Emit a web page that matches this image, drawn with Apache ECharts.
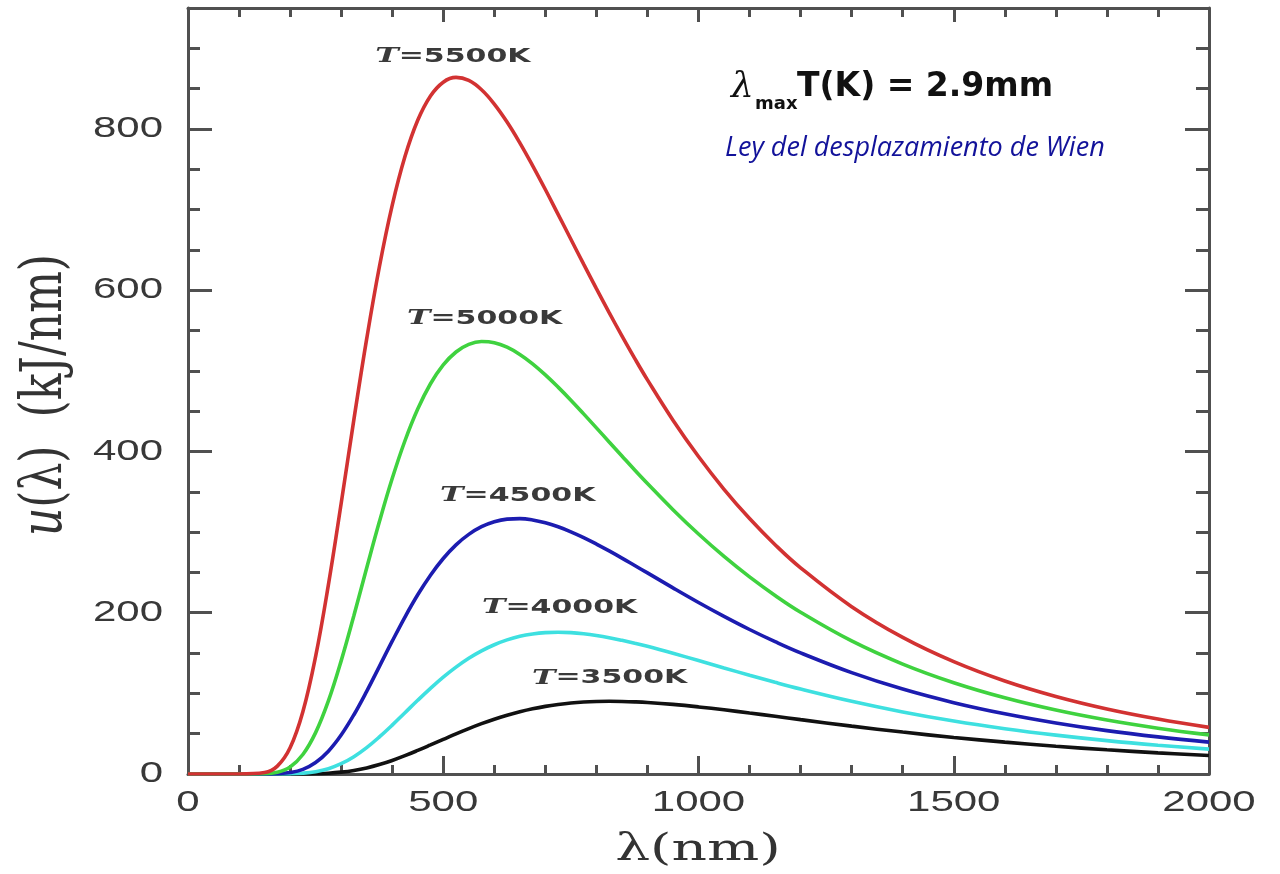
<!DOCTYPE html>
<html><head><meta charset="utf-8">
<script src="https://cdn.jsdelivr.net/npm/echarts@6/dist/echarts.min.js"></script>
<style>html,body{margin:0;padding:0;background:#fff}#c{width:1280px;height:874px}</style>
</head><body><div id="c"></div>
<script>
// Wavelength samples (nm)
const wavelengths = [0,100,150,175,200,225,250,275,300,325,350,375,400,425,450,475,500,525,550,575,600,625,650,675,700,725,750,775,800,825,850,875,900,950,1000,1050,1100,1150,1200,1300,1400,1500,1600,1700,1800,1900,2000];
// u(lambda) values (kJ/nm)
const u5500 = [0,0,1.8,9.8,32.5,77.2,145.9,234.6,335.5,439.8,539.6,629.4,705.2,765.7,810.7,840.9,858.0,863.9,860.1,848.6,830.9,808.6,782.8,754.6,724.9,694.1,663.2,632.3,601.9,572.2,543.4,515.5,488.8,438.8,393.7,353.1,316.8,284.4,255.7,207.5,169.4,139.3,115.3,96.1,80.6,68.1,57.8];
const u5000 = [0,0,0.3,2.2,8.8,24.2,51.3,90.6,140.3,196.6,255.5,313.1,366.4,413.3,452.6,484.0,507.4,523.4,532.8,536.3,534.9,529.3,520.3,508.7,495.0,479.8,463.6,446.6,429.3,411.8,394.4,377.1,360.3,327.8,297.6,269.8,244.4,221.4,200.6,165.0,136.3,113.2,94.5,79.3,66.9,56.8,48.5];
const u4500 = [0,0,0,0.4,1.8,5.8,14.3,28.3,48.3,73.5,102.5,133.5,164.7,194.7,222.3,246.6,267.3,284.2,297.2,306.7,312.9,316.1,316.7,315.1,311.6,306.6,300.4,293.2,285.2,276.7,267.8,258.6,249.4,230.8,212.7,195.5,179.2,164.1,150.2,125.7,105.3,88.5,74.7,63.3,53.8,46.0,39.5];
const u4000 = [0,0,0,0,0.2,1.0,2.9,6.6,12.8,21.5,32.7,46.0,60.6,76.0,91.4,106.2,120.1,132.5,143.5,152.7,160.3,166.3,170.7,173.6,175.3,175.8,175.3,173.9,171.8,169.1,165.8,162.2,158.3,149.7,140.7,131.5,122.5,113.7,105.4,90.2,77.0,65.7,56.2,48.2,41.4,35.7,30.9];
const u3500 = [0,0,0,0,0,0.1,0.4,1.0,2.3,4.4,7.5,11.7,16.8,22.7,29.2,36.0,42.9,49.8,56.3,62.4,68.0,72.9,77.2,80.9,83.9,86.2,88.0,89.2,89.9,90.2,90.0,89.5,88.7,86.3,83.2,79.6,75.6,71.6,67.4,59.4,52.0,45.3,39.5,34.4,30.0,26.2,22.9];
const seriesNames = ['T=5500K','T=5000K','T=4500K','T=4000K','T=3500K'];
const xTicks = [0,500,1000,1500,2000];
const yTicks = [0,200,400,600,800];

const seriesValues = [u5500,u5000,u4500,u4000,u3500];
const colors = ['#d23232','#3fd23f','#1c1cb0','#3ee0e0','#111111'];
// annotation anchor points in data space
const labelAnchors = [[519,890],[581,565],[646,345],[728,206],[826,119]];

const chart = echarts.init(document.getElementById('c'), null, {renderer:'canvas'});
const frame = '#505050';
const lineSt = {color:frame, width:3};
function xAx(pos){
  return {type:'value', min:0, max:2000, interval:500, position:pos,
    axisLine:{show:true, onZero:false, lineStyle:lineSt},
    axisTick:{show:true, inside:true, length: pos==='bottom'?18:14, lineStyle:lineSt},
    minorTick:{show:true, splitNumber:5, length:9, lineStyle:lineSt},
    splitLine:{show:false}, minorSplitLine:{show:false},
    axisLabel:{show:false}
  };
}
function yAx(pos, interval, len, showLine){
  return {type:'value', min:0, max:950, interval:interval, position:pos, offset:0,
    axisLine:{show:showLine, onZero:false, lineStyle:lineSt},
    axisTick:{show:true, inside:true, length:len, lineStyle:lineSt},
    splitLine:{show:false},
    axisLabel:{show:false}
  };
}

const option = {
  backgroundColor:'#ffffff',
  animation:false,
  grid:{left:188, right:71, top:8, bottom:100, containLabel:false, outerBoundsMode:'none'},
  xAxis:[xAx('bottom'), xAx('top')],
  yAxis:[yAx('left',200,24,true), yAx('left',50,12,false), yAx('right',200,24,true), yAx('right',50,13,false)],
  series: seriesValues.map((vals,i)=>({
    name: seriesNames[i], type:'line', xAxisIndex:0, yAxisIndex:0,
    showSymbol:false, smooth:0.4, z: 10 - i,
    lineStyle:{color:colors[i], width:3.6}, itemStyle:{color:colors[i]},
    data: wavelengths.map((x,j)=>[x, vals[j]])
  }))
};
chart.setOption(option);

const tickFont = '30px "Liberation Sans"';
const graphics = [];
xTicks.forEach(v=>{
  const px = chart.convertToPixel({xAxisIndex:0}, v);
  graphics.push({type:'text', x:px, y:803, scaleX:1.4, z:100,
    style:{text:String(v), font:tickFont, fill:'#383838', align:'center', verticalAlign:'middle'}});
});
yTicks.forEach(v=>{
  const py = chart.convertToPixel({yAxisIndex:0}, v);
  graphics.push({type:'text', x:163, y:py, scaleX:1.4, z:100,
    style:{text:String(v), font:tickFont, fill:'#383838', align:'right', verticalAlign:'middle'}});
});
// axis titles
graphics.push(
  {type:'text', x:698, y:850, scaleX:1.45, z:100,
    style:{text:'λ(nm)', font:'38px "DejaVu Serif"', fill:'#333', align:'center', verticalAlign:'middle'}},
  {type:'text', x:46, y:395, rotation:Math.PI/2, scaleY:1.3, z:100,
    style:{text:'{i|u}{n|(λ)  (kJ/nm)}', align:'center', verticalAlign:'middle',
      rich:{i:{fontFamily:'DejaVu Serif', fontStyle:'italic', fontSize:44, fill:'#333'},
            n:{fontFamily:'DejaVu Serif', fontSize:44, fill:'#333'}}}}
);
seriesNames.forEach((name,i)=>{
  const p = chart.convertToPixel({gridIndex:0}, labelAnchors[i]);
  graphics.push({type:'text', x:p[0], y:p[1], scaleX:1.5, z:100,
    style:{text:'{t|T}{n|' + name.slice(1) + '}', align:'center', verticalAlign:'middle',
      rich:{t:{fontFamily:'DejaVu Serif', fontStyle:'italic', fontWeight:'bold', fontSize:21, fill:'#3a3a3a'},
            n:{fontFamily:'DejaVu Sans', fontWeight:'bold', fontSize:20, fill:'#3a3a3a'}}}});
});
graphics.push(
  {type:'text', x:731, y:88, z:100, style:{text:'λ', font:'italic 36px "DejaVu Serif"', fill:'#111', align:'left', verticalAlign:'middle'}},
  {type:'text', x:755, y:104, z:100, style:{text:'max', font:'bold 18px "DejaVu Sans"', fill:'#111', align:'left', verticalAlign:'middle'}},
  {type:'text', x:797, y:87, z:100, style:{text:'T(K) = 2.9mm', font:'bold 33px "DejaVu Sans"', fill:'#111', align:'left', verticalAlign:'middle'}},
  {type:'text', x:725, y:148, z:100, style:{text:'Ley del desplazamiento de Wien', font:'italic 27px "Open Sans"', fill:'#12129a', align:'left', verticalAlign:'middle'}}
);
chart.setOption({graphic:graphics});
</script></body></html>
